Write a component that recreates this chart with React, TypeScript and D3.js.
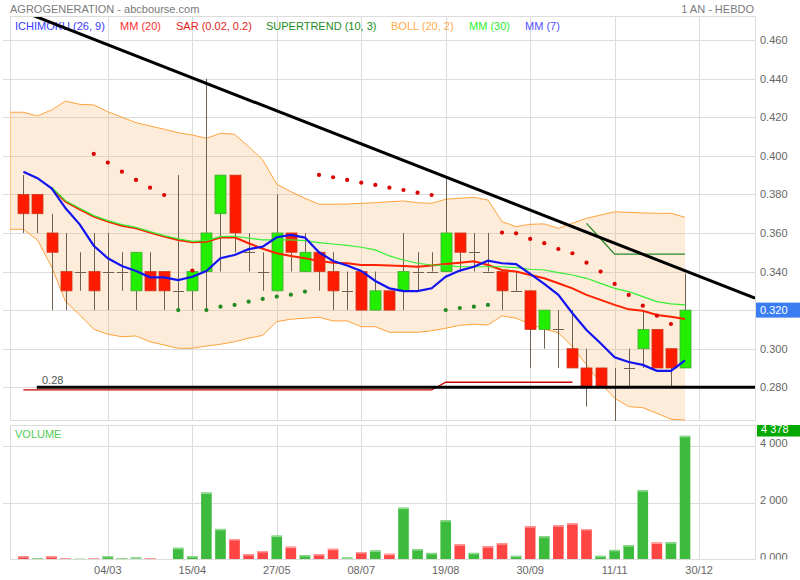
import React from 'react';
import * as d3 from 'd3';

// ---------- DATA ----------
const dateLabels = ["04/03", "15/04", "27/05", "08/07", "19/08", "30/09", "11/11", "30/12"];
const dateTickIdx = [6, 12, 18, 24, 30, 36, 42, 48];

const openP = [.38, .38, .36, .34, .34, .34, .34, .34, .33, .34, .34, .33, .33, .34, .37, .39, .35, .34, .33, .36, .34, .35, .34, .33, .34, .32, .33, .33, .34, .34, .34, .36, .35, .34, .34, .33, .33, .31, .31, .30, .29, .29, .28, .29, .30, .31, .30, .29];
const highP = [.39, .38, .37, .36, .35, .36, .36, .35, .35, .35, .34, .39, .34, .44, .39, .39, .36, .35, .38, .36, .36, .35, .35, .34, .34, .34, .33, .36, .35, .35, .389, .36, .36, .36, .34, .34, .33, .32, .32, .32, .30, .29, .29, .30, .32, .31, .30, .339];
const lowP = [.36, .36, .32, .32, .33, .32, .32, .33, .32, .33, .32, .32, .32, .32, .34, .35, .34, .33, .33, .34, .34, .33, .32, .32, .32, .32, .32, .32, .33, .34, .34, .34, .34, .34, .32, .33, .29, .30, .29, .29, .27, .28, .262, .28, .29, .29, .28, .29];
const closeP = [.37, .37, .35, .33, .34, .33, .34, .34, .35, .33, .33, .33, .34, .36, .39, .36, .35, .34, .36, .35, .35, .34, .33, .33, .32, .33, .32, .34, .34, .34, .36, .35, .35, .34, .33, .33, .31, .32, .31, .29, .28, .28, .28, .29, .31, .29, .29, .32];

const volume = [120, 50, 120, 50, 25, 35, 120, 50, 70, 50, 15, 415, 120, 2370, 1083, 726, 190, 300, 845, 452, 155, 190, 380, 71, 262, 321, 202, 1833, 365, 235, 1390, 540, 235, 470, 575, 130, 1180, 825, 1210, 1280, 1080, 130, 340, 505, 2450, 600, 610, 4378];
const volumeDir = ["r", "g", "r", "r", "g", "r", "g", "g", "g", "r", "g", "g", "g", "g", "g", "r", "r", "r", "g", "r", "g", "r", "r", "g", "r", "g", "r", "g", "g", "g", "g", "r", "g", "r", "r", "g", "r", "g", "r", "r", "r", "g", "g", "g", "g", "r", "g", "g"];

const mm7 = [0.3918, 0.3884, 0.3832, 0.3728, 0.3645, 0.3534, 0.3469, 0.3429, 0.3403, 0.337, 0.337, 0.3356, 0.3373, 0.3403, 0.3469, 0.3486, 0.3516, 0.3529, 0.3578, 0.359, 0.3576, 0.35, 0.3455, 0.3431, 0.3403, 0.3351, 0.3313, 0.3299, 0.3299, 0.3313, 0.3373, 0.3405, 0.3425, 0.3456, 0.3443, 0.3439, 0.3388, 0.3336, 0.3279, 0.3184, 0.3097, 0.3028, 0.2956, 0.2931, 0.2916, 0.2885, 0.2885, 0.294];
const mm20 = [null, null, 0.3832, 0.3762, 0.3723, 0.3685, 0.3659, 0.3638, 0.3624, 0.3602, 0.3581, 0.3564, 0.3552, 0.3555, 0.3576, 0.3578, 0.3547, 0.3518, 0.3495, 0.3481, 0.3469, 0.3455, 0.3446, 0.3443, 0.3434, 0.3434, 0.3431, 0.3429, 0.3425, 0.3431, 0.3439, 0.3446, 0.3453, 0.3434, 0.3408, 0.34, 0.3382, 0.3365, 0.3339, 0.3313, 0.3279, 0.3253, 0.3227, 0.3204, 0.3197, 0.3175, 0.3166, 0.3154];
const mm30 = [null, null, 0.3837, 0.3767, 0.3728, 0.369, 0.3664, 0.3643, 0.3629, 0.3607, 0.3586, 0.3569, 0.3557, 0.356, 0.3581, 0.3583, 0.3573, 0.3564, 0.3564, 0.3564, 0.356, 0.355, 0.3543, 0.3536, 0.3526, 0.3512, 0.3481, 0.346, 0.3443, 0.3434, 0.3431, 0.3425, 0.3425, 0.3425, 0.3425, 0.342, 0.3412, 0.3408, 0.3394, 0.3382, 0.3365, 0.3339, 0.3313, 0.3296, 0.327, 0.3244, 0.3232, 0.3227];

// Bollinger: first entry is the point before the first candle
const bollUpper = [0.4226, 0.4226, 0.4207, 0.4238, 0.4284, 0.4267, 0.4264, 0.4229, 0.42, 0.4172, 0.4155, 0.4138, 0.412, 0.4108, 0.4091, 0.4117, 0.4112, 0.4048, 0.3979, 0.3853, 0.3814, 0.378, 0.3749, 0.3749, 0.375, 0.3754, 0.3757, 0.3762, 0.3766, 0.3757, 0.3754, 0.3775, 0.378, 0.3785, 0.3771, 0.3659, 0.3633, 0.3645, 0.3647, 0.3624, 0.365, 0.3676, 0.3693, 0.371, 0.3707, 0.3704, 0.3702, 0.3702, 0.3681];
const bollLower = [0.3619, 0.3619, 0.3564, 0.3425, 0.3244, 0.3175, 0.3101, 0.3075, 0.3062, 0.3066, 0.3036, 0.3019, 0.3002, 0.3002, 0.3014, 0.3023, 0.3036, 0.3054, 0.3069, 0.314, 0.3153, 0.3158, 0.3163, 0.3144, 0.3144, 0.3114, 0.3114, 0.3085, 0.3085, 0.3085, 0.3093, 0.3106, 0.3121, 0.3127, 0.3123, 0.317, 0.3158, 0.3128, 0.3101, 0.3083, 0.301, 0.2916, 0.2821, 0.2743, 0.27, 0.2694, 0.2665, 0.2634, 0.263];

const sarValue = [null, null, null, null, null, 0.401, 0.3965, 0.3918, 0.3875, 0.3835, 0.3797, 0.32, 0.3405, 0.32, 0.3218, 0.3227, 0.3244, 0.3258, 0.327, 0.328, 0.3296, 0.3901, 0.3889, 0.3875, 0.3861, 0.3849, 0.3835, 0.3823, 0.3809, 0.3797, 0.32, 0.3211, 0.3218, 0.3227, 0.3602, 0.3598, 0.3569, 0.3547, 0.3517, 0.3495, 0.3446, 0.34, 0.3336, 0.3279, 0.3223, 0.3171, 0.3128, null];
const sarSide = ["", "", "", "", "", "r", "r", "r", "r", "r", "r", "g", "r", "g", "g", "g", "g", "g", "g", "g", "g", "r", "r", "r", "r", "r", "r", "r", "r", "r", "g", "g", "g", "g", "r", "r", "r", "r", "r", "r", "r", "r", "r", "r", "r", "r", "r", ""];

const ichimoku = [0.2786, 0.2786, 0.2786, 0.2786, 0.2786, 0.2786, 0.2786, 0.2786, 0.2786, 0.2786, 0.2786, 0.2786, 0.2786, 0.2786, 0.2786, 0.2786, 0.2786, 0.2786, 0.2786, 0.2786, 0.2786, 0.2786, 0.2786, 0.2786, 0.2786, 0.2786, 0.2786, 0.2786, 0.2786, 0.2786, 0.2826, 0.2826, 0.2826, 0.2826, 0.2826, 0.2826, 0.2826, 0.2826, 0.2826, 0.2826, null, null, null, null, null, null, null, null];
const supertrend = [null, null, null, null, null, null, null, null, null, null, null, null, null, null, null, null, null, null, null, null, null, null, null, null, null, null, null, null, null, null, null, null, null, null, null, null, null, null, null, null, 0.365, 0.357, 0.349, 0.349, 0.349, 0.349, 0.349, 0.349];

const trendIdx = [30, 47];
const trendPrice = [0.389, 0.3404];
const supportLevel = 0.28;
const supportLabel = "0.28";
const lastPrice = 0.32;
const lastVolumeLabel = "4 378";

const legendLabels = ["ICHIMOKU (26, 9)", "MM (20)", "SAR (0.02, 0.2)", "SUPERTREND (10, 3)", "BOLL (20, 2)", "MM (30)", "MM (7)"];
const legendColors = ["#3a3aff", "#ff3030", "#e41c1c", "#1f8c1f", "#ffaa4c", "#2cee2c", "#4f4fff"];
const volTicks = [0, 2000, 4000];
const volTickLabels = ["0.000", "2 000", "4 000"];

// ---------- CHART ----------
const FONT = "'Liberation Sans', Arial, sans-serif";

export default function App() {
  const L = 10, R = 755, T = 17, B = 421, VT = 425, VB = 559.5;
  const x = d3.scaleLinear().domain([-0.95, 51.97]).range([L, R]);
  const y = d3.scaleLinear().domain([0.2625, 0.472]).range([B, T]);
  const yv = d3.scaleLinear().domain([0, 4761]).range([VB, VT]);
  const priceTicks = y.ticks(10).filter(t => t >= 0.279 && t <= 0.461);
  const fmt = d3.format(".3f");
  const n = closeP.length;
  const idx = d3.range(n);
  const bw = 11;

  const lineGen = d3.line<number | null>()
    .defined(v => v != null)
    .x((_, i) => x(i))
    .y(v => y(v as number));

  const bandX = (i: number) => x(Math.max(i - 1, -0.95));
  const bandArea = d3.area<number>()
    .x((_, i) => bandX(i))
    .y0((_, i) => y(bollLower[i]))
    .y1(v => y(v));
  const bandLine = (arr: number[]) => d3.line<number>().x((_, i) => bandX(i)).y(v => y(v))(arr) as string;

  const slope = (trendPrice[1] - trendPrice[0]) / (trendIdx[1] - trendIdx[0]);
  const tStart = -0.95, tEnd = 51.97;
  const tp = (i: number) => trendPrice[0] + (i - trendIdx[0]) * slope;

  const grid = "#dcdcdc";
  const wick = "#6f6152";

  return (
    <svg width={800} height={580} style={{ position: 'absolute', left: 0, top: 0, background: '#fff' }} fontFamily={FONT}>
      <defs>
        <clipPath id="main"><rect x={L} y={T} width={R - L} height={B - T} /></clipPath>
        <clipPath id="vol"><rect x={L} y={VT} width={R - L} height={VB - VT} /></clipPath>
        <clipPath id="vlab"><rect x={755} y={VT} width={45} height={VB - VT} /></clipPath>
      </defs>

      {/* title */}
      <text x={10} y={12.5} fontSize={11} fill="#7a7a7a">AGROGENERATION - abcbourse.com</text>
      <text x={754} y={12.5} fontSize={11} fill="#7a7a7a" textAnchor="end">1 AN - HEBDO</text>

      {/* main grid */}
      {priceTicks.map(t => (
        <line key={'g' + t} x1={3} x2={R} y1={Math.round(y(t)) + 0.5} y2={Math.round(y(t)) + 0.5} stroke={grid} />
      ))}
      {dateTickIdx.map(i => (
        <g key={'v' + i}>
          <line x1={Math.round(x(i)) + 0.5} x2={Math.round(x(i)) + 0.5} y1={T} y2={B} stroke={grid} />
          <line x1={Math.round(x(i)) + 0.5} x2={Math.round(x(i)) + 0.5} y1={VT} y2={VB} stroke={grid} />
        </g>
      ))}
      <rect x={L + 0.5} y={T - 0.5} width={R - L} height={B - T} fill="none" stroke={grid} />
      <rect x={L + 0.5} y={VT + 0.5} width={R - L} height={VB - VT - 0.5} fill="none" stroke={grid} />

      {/* volume grid */}
      {volTicks.slice(1).map(t => (
        <line key={'vg' + t} x1={3} x2={R} y1={Math.round(yv(t)) + 0.5} y2={Math.round(yv(t)) + 0.5} stroke={grid} />
      ))}

      {/* legend */}
      {legendLabels.map((lab, i) => (
        <text key={lab} x={[15, 120, 176, 266, 391, 469, 525][i]} y={29.5} fontSize={11} fill={legendColors[i]}>{lab}</text>
      ))}

      <g clipPath="url(#main)">
        {/* Bollinger */}
        <path d={bandArea(bollUpper) as string} fill="rgba(246,186,120,0.28)" stroke="none" />
        <path d={bandLine(bollUpper)} fill="none" stroke="#ffa33c" strokeWidth={1} />
        <path d={bandLine(bollLower)} fill="none" stroke="#ffa33c" strokeWidth={1} />
        <line x1={bandX(0) + 0.5} x2={bandX(0) + 0.5} y1={y(bollUpper[0])} y2={y(bollLower[0])} stroke="#ffc88a" />

        {/* Ichimoku */}
        <path d={lineGen(ichimoku) as string} fill="none" stroke="#cc0000" strokeWidth={1.3} />

        {/* candles */}
        {idx.map(i => {
          const cx = Math.round(x(i)) + 0.5;
          const o = openP[i], c = closeP[i];
          const up = c > o;
          const doji = Math.abs(c - o) < 1e-9;
          const top = y(Math.max(o, c)), bot = y(Math.min(o, c));
          return (
            <g key={'c' + i}>
              <line x1={cx} x2={cx} y1={y(highP[i])} y2={y(lowP[i])} stroke={wick} strokeWidth={1} />
              {doji ? (
                <line x1={cx - bw / 2} x2={cx + bw / 2} y1={Math.round(top) + 0.5} y2={Math.round(top) + 0.5} stroke={wick} />
              ) : (
                <rect x={cx - bw / 2} y={top} width={bw} height={bot - top}
                  fill={up ? '#22ee00' : '#ff1a00'} stroke={up ? '#44a832' : '#cc3a1a'} strokeWidth={0.8} />
              )}
            </g>
          );
        })}

        {/* moving averages */}
        <path d={lineGen(mm20) as string} fill="none" stroke="#ff2200" strokeWidth={2} />
        <path d={lineGen(mm30) as string} fill="none" stroke="#33ee33" strokeWidth={1.2} />
        <path d={lineGen(mm7) as string} fill="none" stroke="#1414f0" strokeWidth={2.2} />

        {/* SAR */}
        {idx.filter(i => sarValue[i] != null).map(i => (
          <circle key={'s' + i} cx={x(i)} cy={y(sarValue[i] as number)} r={2.1}
            fill={sarSide[i] === 'r' ? '#dd0000' : '#228b22'} />
        ))}

        {/* Supertrend */}
        <path d={lineGen(supertrend) as string} fill="none" stroke="#2a8a2a" strokeWidth={1.3} />

        {/* support line */}
        <line x1={x(0.95)} x2={R} y1={y(supportLevel)} y2={y(supportLevel)} stroke="#000" strokeWidth={3} />

        {/* trend line */}
        <line x1={x(tStart)} x2={x(tEnd)} y1={y(tp(tStart))} y2={y(tp(tEnd))} stroke="#000" strokeWidth={3} />
      </g>
      <text x={42} y={y(supportLevel) - 3.5} fontSize={11} fill="#555">{supportLabel}</text>

      {/* price axis */}
      {priceTicks.map(t => (
        <text key={'pl' + t} x={760} y={y(t) + 4} fontSize={11} fill="#666">{fmt(t)}</text>
      ))}
      <rect x={756} y={y(lastPrice) - 7.5} width={44} height={15} fill="#3a7df2" />
      <text x={760} y={y(lastPrice) + 4} fontSize={11} fill="#fff">{fmt(lastPrice)}</text>

      {/* volume */}
      <text x={15} y={438} fontSize={11} fill="#55cc55">VOLUME</text>
      <g clipPath="url(#vol)">
        {idx.map(i => {
          const cx = x(i);
          const top = yv(volume[i]);
          const green = volumeDir[i] === 'g';
          return (
            <g key={'vb' + i}>
              <rect x={cx - 5.3} y={top} width={10.6} height={VB - 0.5 - top} fill={green ? '#3dbb3d' : '#ff4444'} />
              <rect x={cx - 5.3} y={top} width={10.6} height={Math.min(1.5, VB - top)} fill={green ? '#8fd88f' : '#ff9c9c'} />
            </g>
          );
        })}
      </g>
      <line x1={L} x2={R} y1={VB} y2={VB} stroke={grid} />
      <g clipPath="url(#vlab)">
        {volTicks.map((t, i) => (
          <text key={'vl' + t} x={760} y={yv(t) + 1} fontSize={11} fill="#666">{volTickLabels[i]}</text>
        ))}
        <rect x={757} y={VT} width={43} height={11.5} fill="#00a800" />
        <text x={761} y={432.5} fontSize={11} fill="#fff">{lastVolumeLabel}</text>
      </g>

      {/* date axis */}
      {dateTickIdx.map((i, k) => (
        <text key={'d' + i} x={x(i)} y={574} fontSize={11} fill="#666" textAnchor="middle">{dateLabels[k]}</text>
      ))}
    </svg>
  );
}
